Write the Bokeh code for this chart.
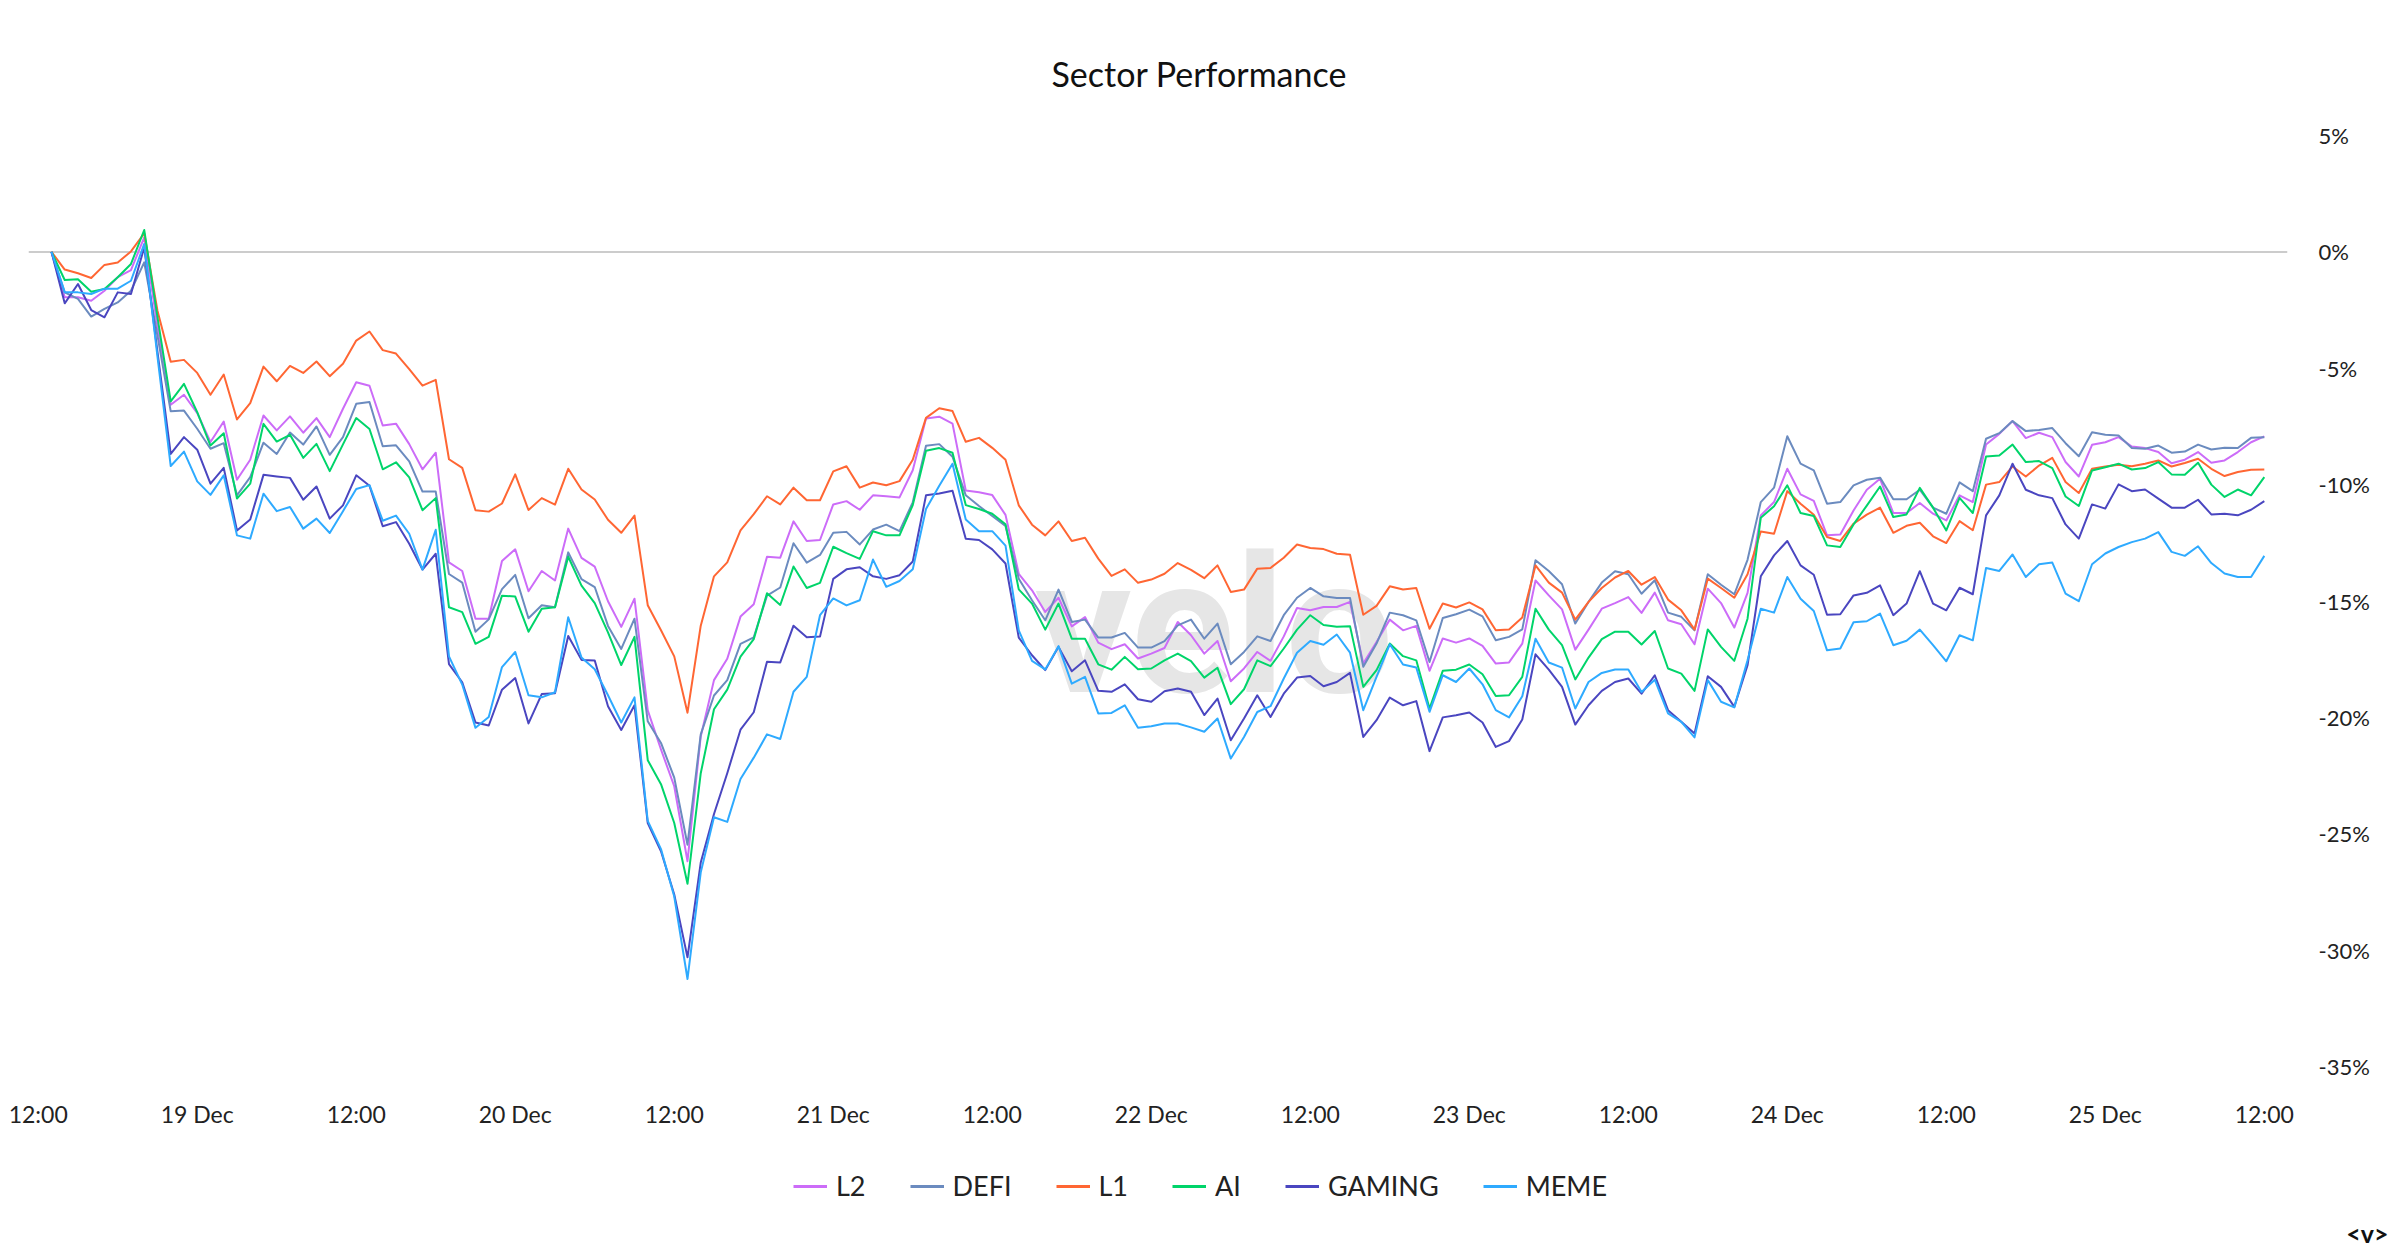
import pandas as pd
from bokeh.plotting import figure
from bokeh.layouts import column
from bokeh.models import Range1d, FixedTicker, Legend, LegendItem, Span, Label, Title
from bokeh.embed import file_html
from bokeh.resources import INLINE

# hourly points, 18 Dec 13:00 -> 25 Dec 12:00
times = pd.date_range("2024-12-18 13:00", periods=168, freq="h")

series_names = ["L2", "DEFI", "L1", "AI", "GAMING", "MEME"]
series_colors = ["#cc6cf8", "#6b8bbf", "#ff6633", "#00d46a", "#4a46c0", "#2eaaff"]

L2 = [0, -1.95, -1.95, -2.10, -1.67, -1.09, -0.78, 0.62, -3.20, -6.57,
      -6.14, -6.93, -8.17, -7.29, -9.79, -8.93, -7.03, -7.67, -7.07, -7.77,
      -7.14, -7.96, -6.74, -5.60, -5.75, -7.46, -7.38, -8.26, -9.34, -8.63,
      -13.34, -13.71, -15.76, -15.76, -13.28, -12.78, -14.58, -13.71, -14.12, -11.89,
      -13.15, -13.52, -15.01, -16.11, -14.90, -19.70, -21.38, -22.96, -26.18, -20.82,
      -18.40, -17.48, -15.67, -15.14, -13.10, -13.14, -11.58, -12.42, -12.38, -10.85,
      -10.71, -11.08, -10.46, -10.50, -10.55, -9.38, -7.16, -7.08, -7.38, -10.25,
      -10.33, -10.45, -11.30, -13.83, -14.54, -15.47, -14.86, -16.09, -15.69, -16.79,
      -17.07, -16.86, -17.47, -17.26, -17.02, -15.90, -16.47, -17.26, -16.72, -18.45,
      -17.90, -17.19, -17.57, -16.52, -15.30, -15.40, -15.26, -15.26, -15.04, -17.69,
      -16.76, -15.80, -16.26, -16.07, -18.00, -16.61, -16.79, -16.61, -16.93, -17.69,
      -17.64, -16.83, -14.12, -14.76, -15.36, -17.09, -16.23, -15.33, -15.09, -14.83,
      -15.51, -14.64, -15.83, -16.00, -16.86, -14.47, -15.09, -16.14, -14.65, -11.32,
      -10.75, -9.32, -10.42, -10.70, -12.18, -12.14, -11.11, -10.22, -9.75, -11.22,
      -11.22, -10.79, -11.25, -11.54, -10.46, -10.75, -8.28, -7.82, -7.27, -8.00,
      -7.77, -7.96, -9.03, -9.65, -8.29, -8.18, -7.96, -8.36, -8.43, -8.60,
      -9.08, -8.93, -8.60, -9.06, -8.96, -8.60, -8.18, -7.93]

DEFI = [0, -1.74, -2.02, -2.78, -2.45, -2.17, -1.67, -0.45, -3.60, -6.85,
        -6.82, -7.60, -8.46, -8.22, -10.46, -9.68, -8.20, -8.68, -7.76, -8.28,
        -7.50, -8.72, -7.96, -6.53, -6.45, -8.35, -8.31, -9.00, -10.30, -10.30,
        -13.84, -14.21, -16.32, -15.79, -14.49, -13.88, -15.74, -15.18, -15.27, -12.91,
        -14.06, -14.40, -16.07, -17.06, -15.76, -20.17, -21.10, -22.59, -25.47, -20.73,
        -19.06, -18.40, -16.84, -16.56, -14.77, -14.42, -12.52, -13.35, -13.02, -12.07,
        -12.03, -12.57, -11.93, -11.72, -12.00, -10.76, -8.33, -8.26, -8.80, -10.46,
        -10.92, -11.35, -11.78, -14.04, -14.97, -15.83, -14.51, -15.90, -15.80, -16.57,
        -16.57, -16.37, -17.00, -17.00, -16.72, -16.05, -15.80, -16.62, -15.97, -17.72,
        -17.19, -16.52, -16.72, -15.61, -14.86, -14.44, -14.80, -14.87, -14.87, -17.83,
        -16.83, -15.50, -15.61, -15.83, -17.62, -15.73, -15.57, -15.37, -15.66, -16.69,
        -16.54, -16.22, -13.25, -13.71, -14.28, -15.97, -15.04, -14.21, -13.72, -13.85,
        -14.69, -14.11, -15.50, -15.68, -16.26, -13.85, -14.30, -14.71, -13.23, -10.75,
        -10.13, -7.92, -9.10, -9.39, -10.82, -10.75, -10.03, -9.79, -9.70, -10.63,
        -10.63, -10.22, -10.99, -11.25, -9.90, -10.28, -8.03, -7.79, -7.27, -7.70,
        -7.65, -7.57, -8.22, -8.78, -7.75, -7.86, -7.89, -8.43, -8.46, -8.32,
        -8.63, -8.58, -8.28, -8.49, -8.42, -8.43, -7.99, -7.96]

L1 = [0, -0.76, -0.92, -1.12, -0.56, -0.46, 0.02, 0.80, -2.53, -4.72,
      -4.64, -5.20, -6.14, -5.27, -7.20, -6.50, -4.93, -5.56, -4.90, -5.20,
      -4.71, -5.34, -4.81, -3.81, -3.42, -4.22, -4.37, -5.04, -5.75, -5.50,
      -8.91, -9.28, -11.10, -11.16, -10.81, -9.56, -11.09, -10.58, -10.86, -9.32,
      -10.21, -10.64, -11.51, -12.07, -11.33, -15.18, -16.26, -17.38, -19.80, -16.06,
      -13.94, -13.34, -11.97, -11.27, -10.50, -10.85, -10.13, -10.67, -10.67, -9.43,
      -9.21, -10.13, -9.91, -10.03, -9.85, -8.93, -7.13, -6.72, -6.84, -8.16,
      -7.99, -8.42, -8.93, -10.89, -11.72, -12.18, -11.58, -12.42, -12.28, -13.18,
      -13.92, -13.64, -14.22, -14.08, -13.83, -13.37, -13.66, -14.02, -13.47, -14.61,
      -14.51, -13.61, -13.58, -13.14, -12.57, -12.72, -12.77, -12.97, -13.01, -15.59,
      -15.21, -14.37, -14.51, -14.44, -16.19, -15.11, -15.28, -15.06, -15.36, -16.26,
      -16.22, -15.71, -13.47, -14.21, -14.64, -15.80, -15.04, -14.44, -13.99, -13.71,
      -14.30, -13.97, -14.94, -15.40, -16.23, -14.04, -14.44, -14.86, -13.85, -12.01,
      -12.11, -10.28, -10.82, -11.29, -12.25, -12.42, -11.68, -11.29, -10.99, -12.07,
      -11.77, -11.64, -12.22, -12.51, -11.57, -11.96, -10.00, -9.89, -9.22, -9.65,
      -9.18, -8.85, -9.89, -10.36, -9.32, -9.22, -9.15, -9.21, -9.10, -8.96,
      -9.22, -9.07, -8.89, -9.32, -9.63, -9.46, -9.36, -9.35]

AI = [0, -1.21, -1.18, -1.71, -1.59, -1.09, -0.52, 0.94, -2.80, -6.42,
      -5.67, -6.89, -8.32, -7.79, -10.60, -9.96, -7.39, -8.15, -7.86, -8.85,
      -8.25, -9.42, -8.27, -7.14, -7.61, -9.34, -9.04, -9.69, -11.10, -10.58,
      -15.27, -15.48, -16.84, -16.54, -14.77, -14.81, -16.32, -15.33, -15.27, -13.10,
      -14.34, -15.09, -16.35, -17.75, -16.54, -21.84, -22.87, -24.54, -27.15, -22.40,
      -19.65, -18.81, -17.39, -16.64, -14.67, -15.17, -13.52, -14.44, -14.22, -12.67,
      -12.94, -13.19, -12.00, -12.18, -12.18, -10.88, -8.54, -8.43, -8.63, -10.88,
      -11.05, -11.25, -11.70, -14.50, -15.11, -16.23, -15.11, -16.62, -16.62, -17.72,
      -17.95, -17.40, -17.93, -17.90, -17.55, -17.26, -17.58, -18.29, -17.87, -19.43,
      -18.79, -17.55, -17.80, -17.04, -16.23, -15.61, -16.03, -16.11, -16.08, -18.69,
      -17.97, -16.83, -17.37, -17.55, -19.62, -18.00, -17.95, -17.73, -18.15, -19.08,
      -19.05, -18.26, -15.33, -16.23, -16.90, -18.37, -17.43, -16.64, -16.32, -16.32,
      -16.87, -16.29, -17.90, -18.12, -18.86, -16.22, -16.97, -17.57, -15.76, -11.42,
      -10.93, -10.03, -11.22, -11.35, -12.61, -12.68, -11.71, -10.90, -10.08, -11.39,
      -11.28, -10.14, -10.99, -11.97, -10.57, -11.22, -8.79, -8.75, -8.28, -9.03,
      -8.99, -9.29, -10.51, -10.92, -9.39, -9.25, -9.10, -9.35, -9.29, -9.03,
      -9.56, -9.58, -9.06, -10.00, -10.53, -10.21, -10.46, -9.68]

GAMING = [0, -2.21, -1.38, -2.50, -2.81, -1.74, -1.81, 0.19, -4.30, -8.68,
          -7.96, -8.50, -9.96, -9.28, -11.97, -11.50, -9.58, -9.65, -9.71, -10.65,
          -10.08, -11.46, -10.89, -9.60, -10.05, -11.79, -11.61, -12.54, -13.65, -12.97,
          -17.71, -18.49, -20.22, -20.35, -18.81, -18.31, -20.26, -19.00, -18.96, -16.50,
          -17.53, -17.56, -19.52, -20.54, -19.48, -24.54, -25.75, -27.61, -30.31, -26.24,
          -24.15, -22.40, -20.53, -19.78, -17.61, -17.64, -16.06, -16.56, -16.53, -14.05,
          -13.64, -13.55, -13.94, -14.05, -13.89, -13.30, -10.46, -10.38, -10.26, -12.33,
          -12.38, -12.78, -13.39, -16.57, -17.33, -17.97, -16.97, -18.02, -17.55, -18.86,
          -18.90, -18.58, -19.22, -19.33, -18.88, -18.76, -18.90, -19.90, -19.19, -20.98,
          -20.05, -19.05, -19.98, -18.98, -18.29, -18.22, -18.66, -18.48, -18.09, -20.84,
          -20.12, -19.15, -19.48, -19.30, -21.45, -20.00, -19.91, -19.79, -20.22, -21.27,
          -21.02, -20.09, -17.29, -17.95, -18.69, -20.31, -19.48, -18.86, -18.48, -18.33,
          -18.98, -18.19, -19.69, -20.19, -20.69, -18.23, -18.69, -19.55, -17.76, -13.94,
          -13.04, -12.42, -13.47, -13.87, -15.59, -15.57, -14.76, -14.65, -14.33, -15.61,
          -15.11, -13.72, -15.11, -15.40, -14.43, -14.71, -11.32, -10.46, -9.10, -10.22,
          -10.46, -10.58, -11.71, -12.32, -10.85, -11.03, -9.99, -10.28, -10.21, -10.60,
          -10.99, -10.99, -10.65, -11.28, -11.25, -11.32, -11.08, -10.71]

MEME = [0, -1.74, -1.74, -1.81, -1.58, -1.58, -1.24, 0.34, -4.50, -9.20,
        -8.58, -9.86, -10.44, -9.60, -12.18, -12.32, -10.39, -11.14, -10.96, -11.89,
        -11.46, -12.08, -11.14, -10.19, -10.02, -11.55, -11.33, -12.11, -13.65, -11.94,
        -17.38, -18.59, -20.45, -19.98, -17.84, -17.19, -19.05, -19.14, -18.92, -15.70,
        -17.43, -17.93, -19.05, -20.22, -19.14, -24.45, -25.66, -27.70, -31.24, -26.66,
        -24.29, -24.49, -22.65, -21.73, -20.73, -20.93, -18.90, -18.26, -15.61, -14.89,
        -15.19, -14.97, -13.22, -14.39, -14.14, -13.64, -11.05, -10.05, -9.10, -11.50,
        -12.00, -12.00, -12.62, -16.26, -17.57, -17.94, -16.94, -18.55, -18.26, -19.83,
        -19.81, -19.48, -20.45, -20.38, -20.26, -20.26, -20.43, -20.62, -20.05, -21.77,
        -20.84, -19.77, -19.52, -18.33, -17.22, -16.72, -16.88, -16.44, -17.22, -19.69,
        -18.26, -16.86, -17.73, -17.86, -19.76, -18.19, -18.48, -17.90, -18.58, -19.69,
        -20.00, -19.09, -16.62, -17.64, -17.86, -19.62, -18.48, -18.09, -17.94, -17.94,
        -18.91, -18.38, -19.83, -20.19, -20.86, -18.40, -19.33, -19.57, -17.55, -15.33,
        -15.50, -13.97, -14.90, -15.43, -17.12, -17.04, -15.91, -15.87, -15.54, -16.90,
        -16.71, -16.23, -16.90, -17.59, -16.47, -16.69, -13.58, -13.71, -13.00, -13.97,
        -13.42, -13.35, -14.68, -15.01, -13.42, -12.96, -12.68, -12.47, -12.32, -12.04,
        -12.89, -13.06, -12.65, -13.37, -13.82, -13.97, -13.97, -13.06]

series_values = [L2, DEFI, L1, AI, GAMING, MEME]

x_tick_times = pd.date_range("2024-12-18 12:00", "2024-12-25 12:00", freq="12h")
x_tick_labels = ["12:00", "19 Dec", "12:00", "20 Dec", "12:00", "21 Dec", "12:00",
                 "22 Dec", "12:00", "23 Dec", "12:00", "24 Dec", "12:00", "25 Dec", "12:00"]
y_ticks = [5, 0, -5, -10, -15, -20, -25, -30, -35]
y_tick_labels = ["5%", "0%", "-5%", "-10%", "-15%", "-20%", "-25%", "-30%", "-35%"]

FONT = "Lato"
TEXT = "#222222"
W = 2392

x_range = Range1d(times[0] - pd.Timedelta(minutes=104), times[-1] + pd.Timedelta(minutes=105))
y_range = Range1d(-35, 5)

p = figure(width=W, height=1130, x_axis_type="datetime", y_axis_location="right",
           x_range=x_range, y_range=y_range, toolbar_location=None,
           output_backend="svg", title="Sector Performance")
p.min_border_left = 28
p.min_border_right = 105
p.min_border_top = 135
p.min_border_bottom = 63
p.outline_line_color = None
p.background_fill_color = "white"
p.border_fill_color = "white"
p.xgrid.grid_line_color = None
p.ygrid.grid_line_color = None

# title
p.title.align = "left"
p.title.offset = 1023
p.title.text_font = FONT
p.title.text_font_size = "34px"
p.title.text_font_style = "normal"
p.title.text_color = "#111111"
p.title.standoff = 84

# x axis
x_tick_ms = [float(t.value // 10**6) for t in x_tick_times]
xa = p.xaxis[0]
xa.ticker = FixedTicker(ticks=x_tick_ms)
xa.major_label_overrides = dict(zip(x_tick_ms, x_tick_labels))
xa.axis_line_color = None
xa.major_tick_line_color = None
xa.minor_tick_line_color = None
xa.major_tick_out = 0
xa.major_tick_in = 0
xa.major_label_standoff = 33
xa.major_label_text_font = FONT
xa.major_label_text_font_size = "23px"
xa.major_label_text_color = TEXT

# y axis
ya = p.yaxis[0]
ya.ticker = FixedTicker(ticks=y_ticks)
ya.major_label_overrides = dict(zip(y_ticks, y_tick_labels))
ya.axis_line_color = None
ya.major_tick_line_color = None
ya.minor_tick_line_color = None
ya.major_tick_out = 0
ya.major_tick_in = 0
ya.major_label_standoff = 31
ya.major_label_text_font = FONT
ya.major_label_text_font_size = "22px"
ya.major_label_text_color = TEXT

# watermark
wm = Label(x=pd.Timestamp("2024-12-22 04:45"), y=-16.1, text="velo", text_align="center",
           text_baseline="alphabetic", text_font="Roboto", text_font_size="192px",
           text_font_style="bold", text_color="#e6e6e6", level="underlay")
p.add_layout(wm)

zero = Span(location=0, dimension="width", line_color="#cccccc", line_width=2, level="underlay")
p.add_layout(zero)

for name, vals, color in zip(series_names, series_values, series_colors):
    p.line(times, vals, line_color=color, line_width=2, line_join="round")

# legend strip below the chart
q = figure(width=W, height=118, x_range=Range1d(0, 1), y_range=Range1d(0, 1),
           x_axis_location=None, y_axis_location=None, toolbar_location=None,
           output_backend="svg")
q.min_border_left = 0
q.min_border_right = 0
q.min_border_top = 0
q.min_border_bottom = 0
q.outline_line_color = None
q.grid.visible = False
q.background_fill_color = "white"
q.border_fill_color = "white"

items = []
for name, color in zip(series_names, series_colors):
    proxy = q.line(x=[float("nan")], y=[float("nan")], line_color=color, line_width=3)
    items.append(LegendItem(label=name, renderers=[proxy]))

legend = Legend(items=items, orientation="horizontal", location=(765, 14), margin=0,
                padding=0, spacing=44, glyph_width=34, glyph_height=20, label_standoff=9,
                label_text_font=FONT, label_text_font_size="27px", label_text_color=TEXT,
                border_line_color=None, background_fill_alpha=0)
q.add_layout(legend)

logo = Title(text="<v>", align="right", offset=-101, vertical_align="middle", standoff=0,
             text_font=FONT, text_font_size="25px", text_font_style="bold",
             text_color="#111111")
q.add_layout(logo, "below")

open("out.html", "w").write(file_html(column(p, q), INLINE))
